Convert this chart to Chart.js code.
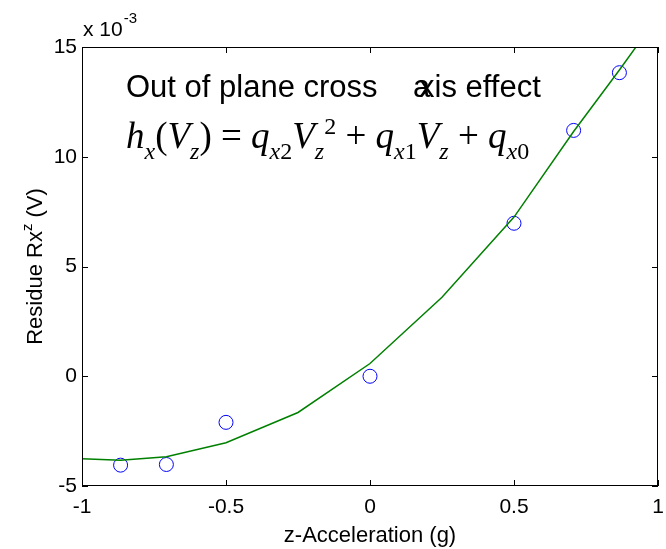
<!DOCTYPE html>
<html>
<head>
<meta charset="utf-8">
<script src="https://cdn.jsdelivr.net/npm/chart.js@4"></script>
<style>
  html, body { margin: 0; padding: 0; background: #fff; }
  canvas { display: block; }
</style>
</head>
<body>
<canvas id="grafico" width="666" height="549"></canvas>
<script>
// medidas (unidades de 10^-3 V no eixo y)
const accelZ = [-0.866, -0.707, -0.5, 0, 0.5, 0.707, 0.866];
const residuo = [-4.05, -4.02, -2.1, 0, 6.97, 11.2, 13.83];

// curva ajustada (polinomio de 2a ordem)
const ajusteX = [-1, -0.866, -0.707, -0.5, -0.25, 0, 0.25, 0.5, 0.707, 0.866, 1];
const ajusteY = [-3.76, -3.83, -3.67, -3.03, -1.65, 0.58, 3.6, 7.25, 11.15, 13.95, 16.4];

const ticksX = [-1, -0.5, 0, 0.5, 1];
const ticksY = [-5, 0, 5, 10, 15];

const fonteSans = "'Liberation Sans', Arial, sans-serif";
const fonteSerif = "'Liberation Serif', 'Times New Roman', serif";

// moldura + marcas de escala para dentro (estilo matlab)
const moldura = {
    id: "moldura",
    afterDatasetsDraw(chart) {
        const { ctx, chartArea: a, scales: { x, y } } = chart;
        ctx.save();
        ctx.strokeStyle = "#000";
        ctx.lineWidth = 1;
        ctx.strokeRect(a.left + 0.5, a.top + 0.5, a.right - a.left - 1, a.bottom - a.top - 1);
        ctx.beginPath();
        ticksX.forEach(v => {
            const px = Math.round(x.getPixelForValue(v)) + 0.5;
            ctx.moveTo(px, a.bottom); ctx.lineTo(px, a.bottom - 6);
            ctx.moveTo(px, a.top); ctx.lineTo(px, a.top + 6);
        });
        ticksY.forEach(v => {
            const py = Math.round(y.getPixelForValue(v)) + 0.5;
            ctx.moveTo(a.left, py); ctx.lineTo(a.left + 6, py);
            ctx.moveTo(a.right, py); ctx.lineTo(a.right - 6, py);
        });
        ctx.stroke();
        ctx.restore();
    }
};

// textos: expoente, titulo do eixo y, anotacoes
const textos = {
    id: "textos",
    afterDraw(chart) {
        const { ctx, chartArea: a } = chart;
        ctx.save();
        ctx.fillStyle = "#000";
        ctx.textBaseline = "alphabetic";
        ctx.textAlign = "left";

        // x 10^-3
        ctx.font = "21px " + fonteSans;
        ctx.fillText("x 10", a.left + 1, 36);
        const w10 = ctx.measureText("x 10").width;
        ctx.font = "15px " + fonteSans;
        ctx.fillText("-3", a.left + 1 + w10 + 1, 23);

        // titulo do eixo y com sobrescrito
        ctx.save();
        ctx.translate(42, (a.top + a.bottom) / 2);
        ctx.rotate(-Math.PI / 2);
        const partes = [["Residue Rx", 22, 0], ["z", 15, -10], [" (V)", 22, 0]];
        let total = 0;
        partes.forEach(p => { ctx.font = p[1] + "px " + fonteSans; total += ctx.measureText(p[0]).width; });
        let cx = -total / 2;
        partes.forEach(p => {
            ctx.font = p[1] + "px " + fonteSans;
            ctx.fillText(p[0], cx, p[2]);
            cx += ctx.measureText(p[0]).width;
        });
        ctx.restore();

        // anotacao 1 (o "a" sobreposto como no original)
        ctx.font = "31px " + fonteSans;
        ctx.fillText("Out of plane cross", 126, 97);
        ctx.fillText("a", 413, 97);
        ctx.fillText("xis effect", 419, 97);

        // equacao
        const M = 37, S = 24;
        const eq = [
            ["h", "italic", M, 0], ["x", "italic", S, 11], ["(", "", M, 0], ["V", "italic", M, 0],
            ["z", "italic", S, 11], [")", "", M, 0], [" = ", "", M, 0], ["q", "italic", M, 0],
            ["x", "italic", S, 11], ["2", "", S, 11], ["V", "italic", M, 0], ["z", "italic", S, 11],
            ["2", "", S, -14], [" + ", "", M, 0], ["q", "italic", M, 0], ["x", "italic", S, 11],
            ["1", "", S, 11], ["V", "italic", M, 0], ["z", "italic", S, 11], [" + ", "", M, 0],
            ["q", "italic", M, 0], ["x", "italic", S, 11], ["0", "", S, 11]
        ];
        let ex = 126;
        eq.forEach(s => {
            ctx.font = (s[1] ? s[1] + " " : "") + s[2] + "px " + fonteSerif;
            ctx.fillText(s[0], ex, 148 + s[3]);
            ex += ctx.measureText(s[0]).width;
        });
        ctx.restore();
    }
};

const ctx = document.getElementById("grafico").getContext("2d");
new Chart(ctx, {
    type: "scatter",
    data: {
        datasets: [
            {
                label: "ajuste",
                data: ajusteX.map((v, i) => ({ x: v, y: ajusteY[i] })),
                showLine: true,
                borderColor: "#008000",
                borderWidth: 1.5,
                pointRadius: 0,
                fill: false,
                tension: 0
            },
            {
                label: "medido",
                data: accelZ.map((v, i) => ({ x: v, y: residuo[i] })),
                showLine: false,
                pointStyle: "circle",
                pointRadius: 7,
                pointBorderWidth: 1,
                borderColor: "#0000ff",
                backgroundColor: "rgba(0,0,0,0)"
            }
        ]
    },
    options: {
        responsive: false,
        animation: false,
        layout: { padding: { top: 47, right: 8, left: 0, bottom: 0 } },
        plugins: {
            legend: { display: false },
            tooltip: { enabled: false }
        },
        scales: {
            x: {
                type: "linear",
                min: -1,
                max: 1,
                afterFit(s) { s.height = 63; s.paddingLeft = 0; s.paddingRight = 0; },
                afterBuildTicks(s) { s.ticks = ticksX.map(v => ({ value: v })); },
                grid: { display: false, drawTicks: false },
                border: { display: false },
                ticks: {
                    padding: 9,
                    color: "#000",
                    font: { family: fonteSans, size: 21 },
                    callback: v => String(v)
                },
                title: {
                    display: true,
                    text: "z-Acceleration (g)",
                    color: "#000",
                    font: { family: fonteSans, size: 22 },
                    padding: { top: 0, bottom: 0 }
                }
            },
            y: {
                type: "linear",
                min: -5,
                max: 15,
                afterFit(s) { s.width = 82; s.paddingTop = 0; s.paddingBottom = 0; },
                afterBuildTicks(s) { s.ticks = ticksY.map(v => ({ value: v })); },
                grid: { display: false, drawTicks: false },
                border: { display: false },
                ticks: {
                    padding: 5,
                    color: "#000",
                    font: { family: fonteSans, size: 21 },
                    callback: v => String(v)
                }
            }
        }
    },
    plugins: [moldura, textos]
});
</script>
</body>
</html>
